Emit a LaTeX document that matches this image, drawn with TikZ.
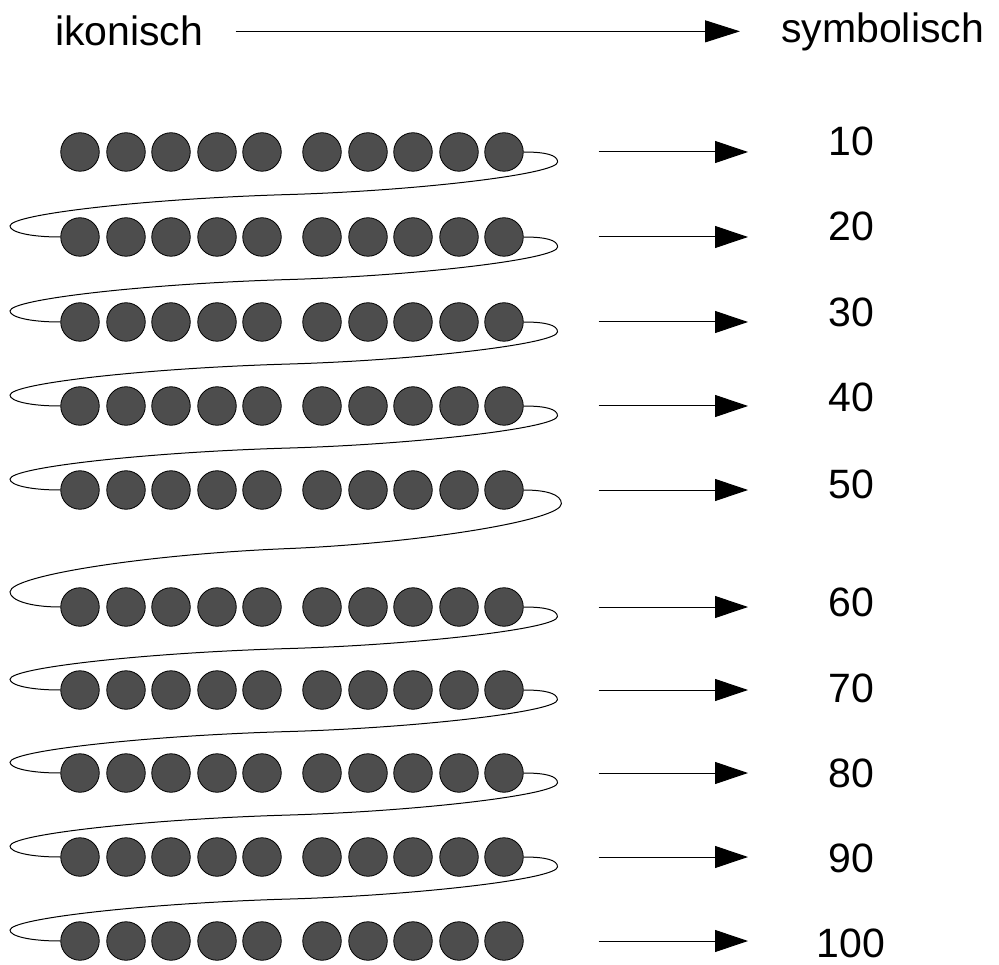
\documentclass[tikz,border=0pt]{standalone}
\usepackage{fontspec}
\setmainfont{Liberation Sans}
\usetikzlibrary{arrows.meta,calc}
\definecolor{beadgray}{HTML}{4D4D4D}

\begin{document}
\begin{tikzpicture}[
    x=1pt, y=1pt,
    font=\fontsize{41}{49}\selectfont,
    bead/.style={circle, draw=black, fill=beadgray, line width=0.8pt, minimum size=38.5pt, inner sep=0pt},
    lbl/.style={inner sep=0pt},
    arr/.style={-{Triangle[length=33pt, width=22pt]}, line width=1pt},
    snake/.style={line width=1pt},
]
    \useasboundingbox (0,0) rectangle (999,-965);

    % Top row: from iconic to symbolic
    \node[lbl, anchor=base west] (ikon) at (55,-46) {ikonisch};
    \node[lbl, anchor=base west] (symb) at (781,-43) {symbolisch};
    \draw[arr, -{Triangle[length=35pt, width=22pt]}, shorten <=32pt, shorten >=41pt] (ikon.east) -- (ikon.east -| symb.west);

    % Rows of ten beads, arrow and number
    \foreach \y/\lab/\base [count=\r] in {152/10/156, 237/20/241, 322/30/327, 406/40/412, 490/50/498,
                                           607/60/616, 690/70/702, 773/80/787, 857/90/872, 941/100/957} {
        \foreach \x [count=\c] in {80,126,171,217,262,322,368,413,459,504}
            \node[bead] (b-\r-\c) at (\x,-\y) {};
        \node[lbl, anchor=base] (n-\r) at (851,-\base) {\lab};
        \coordinate (tip-\r) at (748,-\y);
        \draw[arr, shorten <=75pt] (b-\r-10.east) -- (tip-\r);
    }

    % The counting line winding from row to row
    \foreach \r/\s in {1/2, 2/3, 3/4, 4/5, 5/6, 6/7, 7/8, 8/9, 9/10} {
        \draw[snake] let \p1=(b-\r-10.east), \p2=(b-\s-1.west),
                         \n1={(\y1-\y2)/85}, \n2={\x1+34+10*(\n1-1)},
                         \n3={(\y1+\y2)/2}, \n4={\y2+11*\n1} in
            (\p1) .. controls ({\x1+22},\y1) and (\n2,{\y1-3*\n1}) .. (\n2,{\y1-10*\n1})
                  .. controls (\n2,{\y1-22*\n1}) and (420,{\n3+4*\n1}) .. (290,\n3)
                  .. controls (150,{\n3-4*\n1}) and (10,{\n4+12*\n1}) .. (10,\n4)
                  .. controls (10,{\n4-6*\n1}) and ({\x2-31},\y2) .. (\p2);
    }
\end{tikzpicture}
\end{document}
